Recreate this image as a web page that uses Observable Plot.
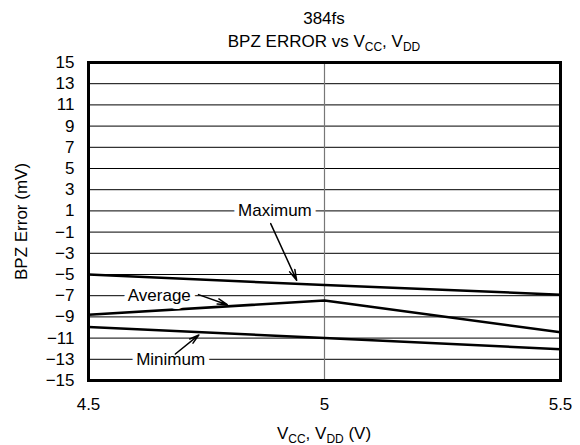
<!DOCTYPE html>
<html>
<head>
<meta charset="utf-8">
<script src="https://cdn.jsdelivr.net/npm/d3@7"></script>
<script src="https://cdn.jsdelivr.net/npm/@observablehq/plot@0.6"></script>
<style>
  body { margin: 0; background: #fff; font-family: "Liberation Sans", Arial, sans-serif; }
  #wrap { position: relative; width: 580px; height: 445px; overflow: hidden; }
  .t { position: absolute; transform: translate(-50%, -50%); white-space: nowrap; font-size: 17px; color: #000; line-height: 1; }
  .s { font-size: 12px; position: relative; top: 4px; }
</style>
</head>
<body>
<div id="wrap">
  <div class="t" style="left:324px; top:18px;">384fs</div>
  <div class="t" style="left:324px; top:41px;">BPZ ERROR vs V<span class="s">CC</span>, V<span class="s">DD</span></div>
  <div class="t" style="left:324px; top:433px;">V<span class="s">CC</span>, V<span class="s">DD</span> (V)</div>
</div>
<script>
// Supply voltage (V)
const voltage = [4.5, 5, 5.5];
// BPZ error (mV) per series
const maximum = [-5.0, -6.0, -6.9];
const average = [-8.8, -7.45, -10.45];
const minimum = [-9.95, -11.0, -12.05];
const yTicks = [15, 13, 11, 9, 7, 5, 3, 1, -1, -3, -5, -7, -9, -11, -13, -15];
const xTicks = [4.5, 5, 5.5];

// Annotation labels and arrows (data coordinates)
const labelText = ["Maximum", "Average", "Minimum"];
const labelX = [4.895, 4.65, 4.674];
const labelY = [1, -7, -13];
const arrowX1 = [4.886, 4.733, 4.684];
const arrowY1 = [-0.2, -6.9, -12.5];
const arrowX2 = [4.941, 4.794, 4.734];
const arrowY2 = [-5.55, -7.85, -10.7];

const series = [
  ...voltage.map((v, i) => ({x: v, y: maximum[i], s: "Maximum"})),
  ...voltage.map((v, i) => ({x: v, y: average[i], s: "Average"})),
  ...voltage.map((v, i) => ({x: v, y: minimum[i], s: "Minimum"}))
];
const labels = labelText.map((t, i) => ({t, x: labelX[i], y: labelY[i]}));
const arrows = labelText.map((t, i) => ({x1: arrowX1[i], y1: arrowY1[i], x2: arrowX2[i], y2: arrowY2[i]}));

const chart = Plot.plot({
  width: 580,
  height: 445,
  marginLeft: 88,
  marginRight: 20,
  marginTop: 62,
  marginBottom: 65,
  style: {fontFamily: "'Liberation Sans', Arial, sans-serif", fontSize: "17px", color: "#000", background: "#fff"},
  x: {domain: [4.5, 5.5]},
  y: {domain: [-15, 15]},
  marks: [
    Plot.ruleY(yTicks.filter(d => d !== 15 && d !== -15), {stroke: "#000", strokeWidth: 1}),
    Plot.ruleX([5], {stroke: "#777", strokeWidth: 1.2}),
    Plot.line(series, {x: "x", y: "y", z: "s", stroke: "#000", strokeWidth: 2.5}),
    Plot.text(labels, {x: "x", y: "y", text: "t", fill: "#000", stroke: "#fff", strokeWidth: 10, fontSize: 17}),
    Plot.arrow(arrows, {x1: "x1", y1: "y1", x2: "x2", y2: "y2", stroke: "#000", strokeWidth: 1.5, headLength: 11, headAngle: 30}),
    Plot.frame({stroke: "#000", strokeWidth: 3}),
    Plot.axisY({ticks: yTicks, tickSize: 0, tickPadding: 14, fontSize: 17, label: "BPZ Error (mV)", labelAnchor: "center", labelOffset: 74, labelArrow: false}),
    Plot.axisX({ticks: xTicks, tickSize: 0, tickPadding: 17, fontSize: 17, tickFormat: d => String(d), label: null})
  ]
});
document.getElementById("wrap").prepend(chart);
chart.style.position = "absolute";
chart.style.left = "0";
chart.style.top = "0";
document.querySelectorAll(".t").forEach(e => e.style.zIndex = 2);
</script>
</body>
</html>
